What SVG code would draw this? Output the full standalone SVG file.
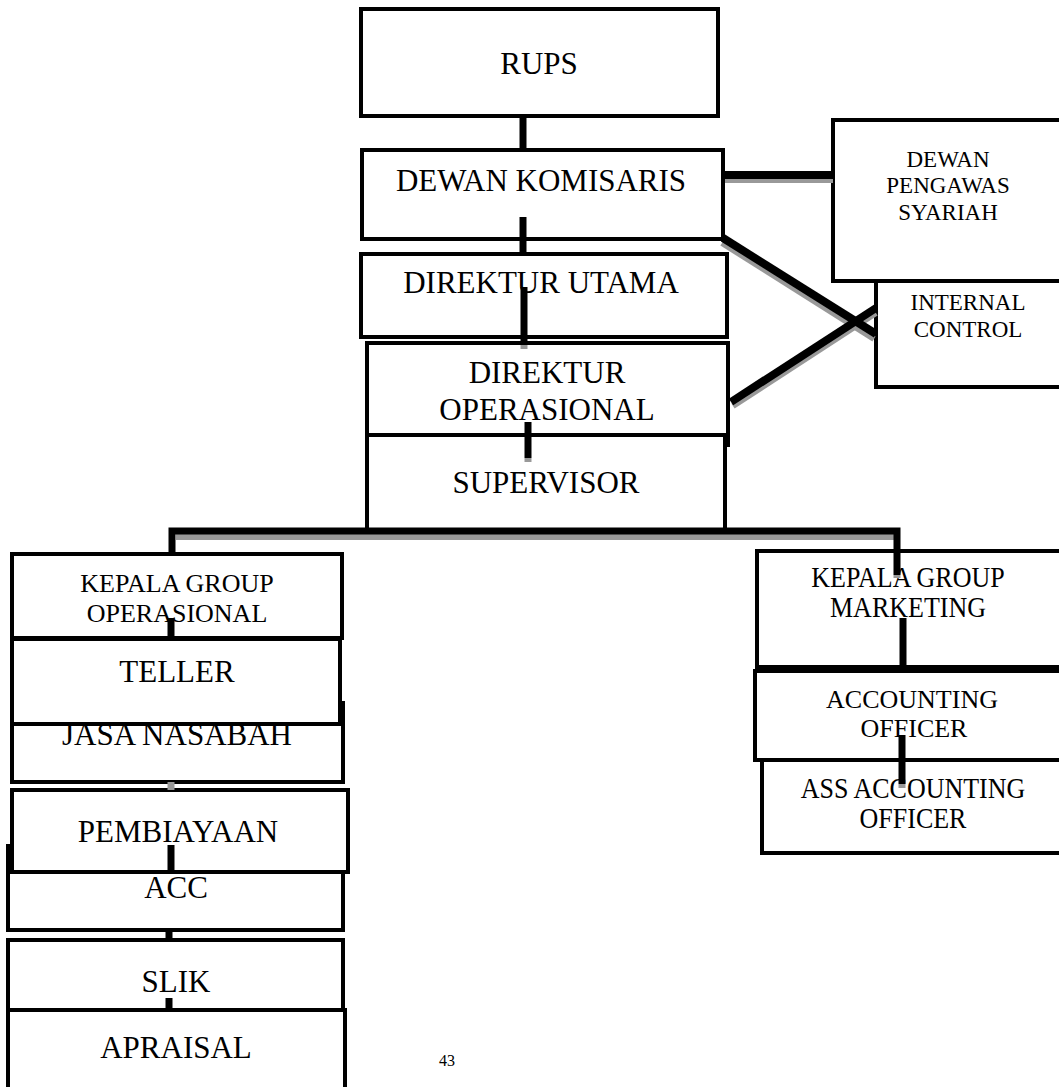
<svg xmlns="http://www.w3.org/2000/svg" width="1059" height="1087" viewBox="0 0 1059 1087">
<style>
.box{fill:#fff;stroke:#000;stroke-width:4}
.t{font-family:"Liberation Serif","Times New Roman",serif;text-anchor:middle;fill:#000}
.l{font-size:31px}
.m{font-size:26px}
.s{font-size:23px}
.c{stroke:#000;stroke-width:7;fill:none}
.w{stroke:#000;stroke-width:8;fill:none}
.sh{stroke:#999;stroke-width:6;fill:none}
</style>
<rect width="1059" height="1087" fill="#fff"/>
<g id="rups"><rect class="box" x="361" y="9" width="357" height="107"/><text class="t l" x="539" y="74">RUPS</text></g>
<g id="dewan-komisaris"><rect class="box" x="362" y="150" width="361" height="89"/><text class="t l" x="541" y="191">DEWAN KOMISARIS</text></g>
<g id="internal-control"><rect class="box" x="876" y="260" width="200" height="127"/><text class="t s" x="968" y="310">INTERNAL</text><text class="t s" x="968" y="337">CONTROL</text></g>
<g id="dewan-pengawas-syariah"><rect class="box" x="833" y="120" width="240" height="161"/><text class="t s" x="948" y="167">DEWAN</text><text class="t s" x="948" y="193">PENGAWAS</text><text class="t s" x="948" y="220">SYARIAH</text></g>
<g id="direktur-utama"><rect class="box" x="361" y="254" width="366" height="83"/><text class="t l" x="541" y="293">DIREKTUR UTAMA</text></g>
<g id="direktur-operasional"><rect class="box" x="367" y="343" width="361" height="102"/><text class="t l" x="547" y="383">DIREKTUR</text><text class="t l" x="547" y="420">OPERASIONAL</text></g>
<g id="supervisor"><rect class="box" x="367" y="435" width="358" height="96"/><text class="t l" x="546" y="493">SUPERVISOR</text></g>
<g id="kepala-group-operasional"><rect class="box" x="12" y="554" width="330" height="84"/><text class="t m" x="177" y="592">KEPALA GROUP</text><text class="t m" x="177" y="622">OPERASIONAL</text></g>
<g id="jasa-nasabah"><rect class="box" x="12" y="703" width="331" height="79"/><text class="t l" x="177" y="745">JASA NASABAH</text></g>
<g id="teller"><rect class="box" x="12" y="639" width="328" height="85"/><text class="t l" x="177" y="682">TELLER</text></g>
<g id="acc"><rect class="box" x="8" y="846" width="335" height="84"/><text class="t l" x="176" y="898">ACC</text></g>
<g id="pembiayaan"><rect class="box" x="12" y="790" width="336" height="82"/><text class="t l" x="178" y="842">PEMBIAYAAN</text></g>
<g id="slik"><rect class="box" x="8" y="940" width="335" height="70"/><text class="t l" x="176" y="992">SLIK</text></g>
<g id="apraisal"><rect class="box" x="8" y="1010" width="337" height="95"/><text class="t l" x="176" y="1058">APRAISAL</text></g>
<g id="kepala-group-marketing"><rect class="box" x="757" y="551" width="320" height="116"/><text class="t m" transform="translate(908,587) scale(1,1.1)">KEPALA GROUP</text><text class="t m" transform="translate(908,617) scale(1,1.1)">MARKETING</text></g>
<g id="ass-accounting-officer"><rect class="box" x="762" y="760" width="320" height="93"/><text class="t m" transform="translate(913,798) scale(1,1.12)">ASS ACCOUNTING</text><text class="t m" transform="translate(913,828) scale(1,1.12)">OFFICER</text></g>
<g id="accounting-officer"><rect class="box" x="755" y="671" width="320" height="89"/><text class="t m" x="912" y="708">ACCOUNTING</text><text class="t m" x="914" y="737">OFFICER</text></g>
<text class="t" x="447" y="1066" style="font-size:16px">43</text>
<g id="connectors">
<line class="sh" x1="725" y1="180" x2="833" y2="180"/>
<line class="sh" x1="722" y1="243" x2="874" y2="339"/>
<line class="sh" x1="733" y1="406" x2="876" y2="313"/>
<line class="sh" x1="176" y1="537" x2="897" y2="537"/>
<line class="c" x1="523" y1="116" x2="523" y2="150"/>
<line class="c" x1="523" y1="217" x2="523" y2="254"/>
<line class="c" x1="524" y1="287" x2="524" y2="345"/>
<line stroke="#999" stroke-width="7" x1="524" y1="345" x2="524" y2="349"/>
<line class="c" x1="528" y1="422" x2="528" y2="458"/>
<line stroke="#999" stroke-width="7" x1="528" y1="458" x2="528" y2="462"/>
<line class="w" x1="723" y1="175" x2="833" y2="175"/>
<line class="w" x1="723" y1="238" x2="876" y2="334"/>
<line class="w" x1="731" y1="402" x2="876" y2="308"/>
<polyline class="c" points="172,556 172,531 897,531 897,575"/>
<line stroke="#999" stroke-width="7" x1="897" y1="575" x2="897" y2="578"/>
<line class="c" x1="171" y1="618" x2="171" y2="639"/>
<line stroke="#999" stroke-width="7" x1="171" y1="782" x2="171" y2="790"/>
<line class="c" x1="171" y1="845" x2="171" y2="872"/>
<line class="c" x1="169" y1="930" x2="169" y2="940"/>
<line class="c" x1="169" y1="998" x2="169" y2="1010"/>
<line class="c" x1="903" y1="618" x2="903" y2="673"/>
<line class="c" x1="902" y1="735" x2="902" y2="784"/>
<line stroke="#999" stroke-width="7" x1="902" y1="784" x2="902" y2="788"/>
</g>
</svg>
